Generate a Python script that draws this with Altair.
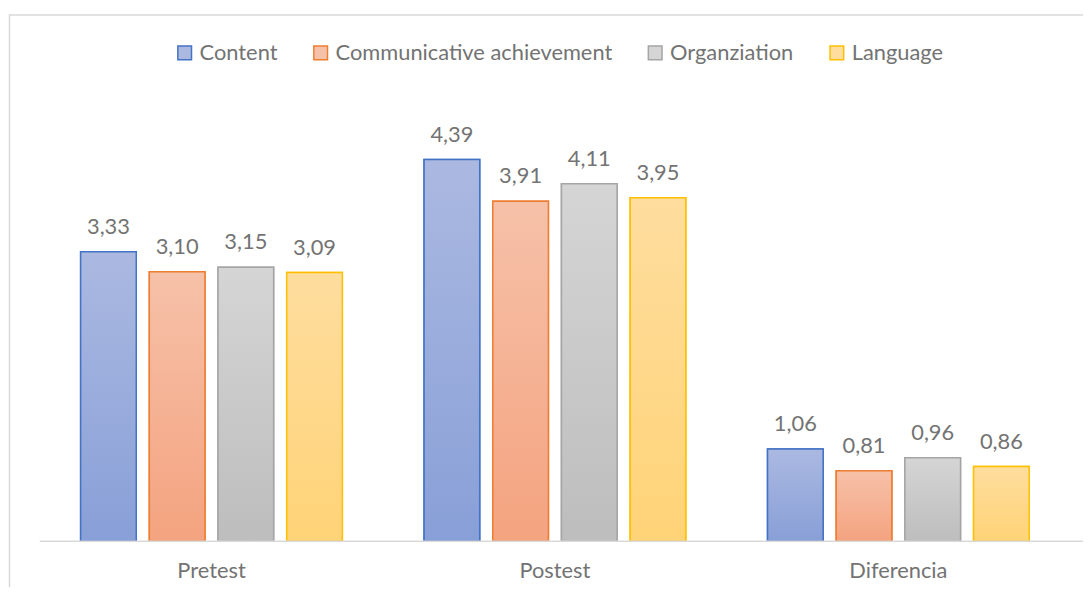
import altair as alt
import pandas as pd

groups = ["Pretest", "Postest", "Diferencia"]
series = ["Content", "Communicative achievement", "Organziation", "Language"]
content = [3.33, 4.39, 1.06]
communicative = [3.10, 3.91, 0.81]
organization = [3.15, 4.11, 0.96]
language = [3.09, 3.95, 0.86]

fill_top = ["#abb9e1", "#f6c1a9", "#d5d5d5", "#fedd9e"]
fill_bottom = ["#889fd7", "#f4a37f", "#bdbdbd", "#ffd377"]
strokes = ["#4472c4", "#ed7d31", "#a5a5a5", "#ffc000"]

values = [content, communicative, organization, language]
rows = []
for s, vals in zip(series, values):
    for g, v in zip(groups, vals):
        rows.append({"group": g, "series": s, "value": v})
df = pd.DataFrame(rows)

FONT = "Lato"
TEXT_COLOR = "#737373"
FS = 22

x_enc = alt.X("group:N", sort=groups, title=None,
              scale=alt.Scale(paddingInner=0, paddingOuter=0),
              axis=alt.Axis(domain=False, ticks=False, labelAngle=0,
                            labelFontSize=FS, labelFont=FONT,
                            labelColor=TEXT_COLOR, labelPadding=20))
xo_enc = alt.XOffset("series:N", sort=series,
                     scale=alt.Scale(paddingInner=0.19, paddingOuter=0.595))
y_enc = alt.Y("value:Q", scale=alt.Scale(domain=[0, 5]), axis=None, title=None)

single = pd.DataFrame({"a": [0]})

frame = alt.Chart(single).mark_rect(
    fillOpacity=0, stroke="#d9d9d9", strokeWidth=1.5
).encode(x=alt.value(-30.5), x2=alt.value(1100),
         y=alt.value(-92), y2=alt.value(620))

legend = alt.Legend(orient="none", legendX=135, legendY=-65, direction="horizontal",
                    columns=4, title=None, symbolType="square", symbolSize=190,
                    symbolStrokeWidth=1.5, labelFontSize=FS, labelFont=FONT,
                    labelColor=TEXT_COLOR, columnPadding=32, labelOffset=4,
                    labelLimit=0)

base_bars = alt.Chart(df).mark_bar(strokeWidth=1.5).encode(
    x=x_enc, xOffset=xo_enc, y=y_enc,
    fill=alt.Fill("series:N", sort=series,
                  scale=alt.Scale(domain=series, range=fill_top), legend=legend),
    stroke=alt.Stroke("series:N", sort=series,
                      scale=alt.Scale(domain=series, range=strokes), legend=legend),
)

overlays = []
for s, top, bot, st in zip(series, fill_top, fill_bottom, strokes):
    grad = alt.Gradient(gradient="linear",
                        stops=[alt.GradientStop(color=top, offset=0),
                               alt.GradientStop(color=bot, offset=1)],
                        x1=0, x2=0, y1=0, y2=1)
    overlays.append(
        alt.Chart(df).transform_filter(alt.datum.series == s)
        .mark_bar(fill=grad, stroke=st, strokeWidth=1.5)
        .encode(x=x_enc, xOffset=xo_enc, y=y_enc)
    )

labels = alt.Chart(df).transform_calculate(
    label="replace(format(datum.value, '.2f'), '.', ',')"
).mark_text(fontSize=FS, font=FONT, color=TEXT_COLOR, baseline="alphabetic", dy=-18).encode(
    x=x_enc, xOffset=xo_enc, y=y_enc, text="label:N"
)

baseline = alt.Chart(single).mark_rule(color="#d9d9d9", strokeWidth=1.5).encode(
    y=alt.datum(0), x=alt.value(0), x2=alt.value(1051)
)

chart = alt.layer(frame, base_bars, *overlays, labels, baseline).properties(
    width=1038, height=438,
    autosize=alt.AutoSizeParams(type="none"),
    padding={"left": 32, "top": 97, "right": 13, "bottom": 44},
    background="white",
).configure_view(stroke=None)

chart.save("out.html", embed_options={"renderer": "svg", "actions": False})
